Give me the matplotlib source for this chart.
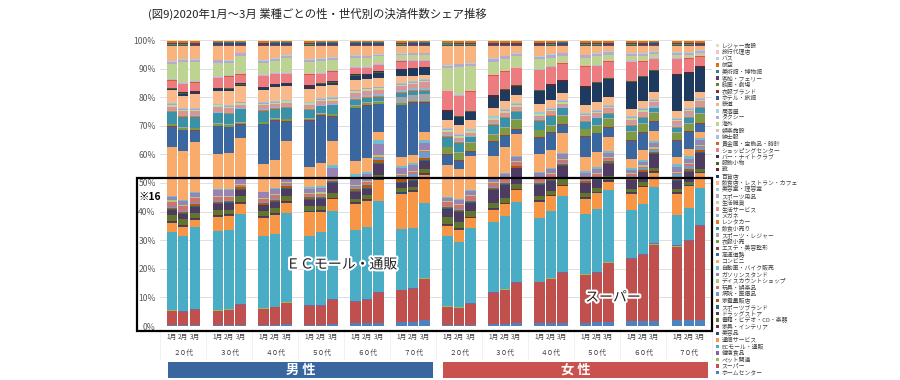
import matplotlib
matplotlib.use('Agg')
import matplotlib.pyplot as plt
import matplotlib.patheffects as pe
from matplotlib.patches import Rectangle
from matplotlib.transforms import blended_transform_factory
import numpy as np

plt.rcParams['font.family'] = ['Noto Sans CJK JP', 'DejaVu Sans']

title = '(図9)2020年1月～3月 業種ごとの性・世代別の決済件数シェア推移'
months = ['1月', '2月', '3月']
ages = ['２０代', '３０代', '４０代', '５０代', '６０代', '７０代']
genders = ['男 性', '女 性']
y_labels = ['0%', '10%', '20%', '30%', '40%', '50%', '60%', '70%', '80%', '90%', '100%']

# stacking order: bottom -> top
categories = ['ホームセンター', 'スーパー', 'ペット関連', '健康食品', 'ECモール・通販', '通信サービス',
              '美容品', '家具・インテリア', '書籍・ビデオ・CD・楽器', 'ドラッグストア', 'スポーツブランド',
              '家電量販店', '病院・医療品', '玩具・娯楽品', 'ディスカウントショップ', 'ガソリンスタンド',
              '自動車・バイク販売', 'コンビニ', '高速道路', 'エステ・美容整形', '衣服小売', 'スポーツ・レジャー',
              '飲食小売り', 'レンタカー', 'メガネ', '生活サービス', '生活雑貨', 'スポーツ用品', '美容室・理容室',
              '飲食店・レストラン・カフェ', '百貨店', '靴', '服飾小物', 'バー・ナイトクラブ', 'ショッピングセンター',
              '貴金属・宝飾品・時計', '紳士服', '娯楽施設', '海外', 'タクシー', '居酒屋', '鉄道', 'ホテル・旅館',
              '衣服ブランド', '映画・劇場', '客船・フェリー', '美術館・博物館', '航空', 'バス', '旅行代理店', 'レジャー施設']

# bar order: 男性20代..70代, 女性20代..70代, each 1月,2月,3月 (share, %)
home_center = [0.4,0.4,0.4, 0.5,0.5,0.5, 0.5,0.5,0.6, 0.5,0.5,0.7, 1.0,1.0,1.0, 1.5,1.5,2.0, 0.3,0.3,0.3, 0.8,0.8,1.0, 1.0,1.0,1.2, 1.2,1.3,1.5, 1.8,1.8,2.0, 2.0,2.0,2.2]
supermarket = [5.0,4.6,5.4, 5.1,5.5,7.2, 5.7,6.3,7.9, 6.5,6.8,8.6, 7.8,8.3,11.0, 11.1,12.0,15.2, 6.3,6.0,7.4, 11.0,12.2,14.3, 14.5,15.7,18.2, 16.8,17.5,21.2, 21.6,23.3,27.8, 25.4,27.8,33.4]
pet = [0.1,0.1,0.1, 0.1,0.1,0.1, 0.1,0.1,0.1, 0.1,0.1,0.1, 0.1,0.1,0.1, 0.1,0.1,0.1, 0.1,0.1,0.1, 0.1,0.1,0.1, 0.1,0.1,0.1, 0.1,0.1,0.1, 0.1,0.1,0.1, 0.1,0.1,0.1]
health_food = [0.2,0.2,0.2, 0.2,0.2,0.2, 0.2,0.2,0.2, 0.2,0.2,0.2, 0.2,0.2,0.2, 0.2,0.2,0.2, 0.2,0.2,0.2, 0.2,0.2,0.2, 0.2,0.2,0.2, 0.2,0.2,0.2, 0.3,0.3,0.3, 0.3,0.3,0.3]
ec_mall = [27.5,26.5,29.2, 28.6,29.0,33.1, 25.8,26.5,32.3, 24.5,26.5,32.1, 25.9,26.3,32.9, 21.7,22.1,27.2, 24.0,22.4,26.6, 25.0,26.0,29.0, 22.8,23.5,28.0, 21.0,22.2,25.6, 17.0,18.0,20.5, 10.5,11.3,13.1]
telecom = [3.3,3.3,2.6, 5.1,5.2,3.5, 6.5,7.0,3.5, 8.2,7.6,4.1, 9.3,9.3,7.8, 12.4,13.1,10.3, 3.5,4.1,3.5, 4.5,4.2,4.0, 5.6,5.2,3.5, 5.5,5.6,2.9, 5.6,5.8,5.3, 7.3,7.6,5.2]
beauty_goods = [0.3,0.3,0.3, 0.3,0.3,0.3, 0.3,0.3,0.3, 0.3,0.3,0.3, 0.4,0.4,0.4, 0.4,0.4,0.4, 0.3,0.3,0.3, 0.3,0.3,0.3, 0.3,0.3,0.3, 0.3,0.3,0.3, 0.3,0.3,0.3, 0.3,0.3,0.3]
furniture = [0.3,0.3,0.3, 0.3,0.3,0.3, 0.3,0.3,0.3, 0.3,0.3,0.3, 0.3,0.3,0.3, 0.3,0.3,0.3, 0.3,0.3,0.3, 0.3,0.3,0.3, 0.3,0.3,0.3, 0.3,0.3,0.3, 0.3,0.3,0.3, 0.3,0.3,0.3]
books = [2.0,2.0,2.0, 1.9,1.5,2.3, 1.8,1.8,2.0, 1.6,1.6,1.8, 1.2,1.2,1.2, 1.2,1.2,1.2, 2.2,2.2,2.0, 1.8,1.8,1.8, 1.5,1.5,2.0, 1.2,1.2,1.5, 1.2,1.2,1.2, 1.0,1.0,1.0]
drugstore = [1.8,1.8,2.2, 2.0,2.5,2.3, 2.0,2.2,2.6, 2.2,2.4,3.5, 2.5,2.5,4.0, 2.0,2.2,3.0, 3.0,3.3,3.0, 4.5,4.5,5.5, 4.0,3.5,5.0, 3.5,3.0,4.5, 3.0,3.5,5.0, 3.0,3.5,5.5]
sports_brand = [0.3,0.3,0.3, 0.3,0.3,0.3, 0.3,0.3,0.3, 0.3,0.3,0.3, 0.3,0.3,0.3, 0.3,0.3,0.3, 0.3,0.3,0.3, 0.3,0.3,0.3, 0.3,0.3,0.3, 0.3,0.3,0.3, 0.3,0.3,0.3, 0.3,0.3,0.3]
electronics = [0.6,0.6,0.6, 0.6,0.6,0.6, 0.6,0.6,0.6, 0.6,0.6,0.6, 0.8,0.8,1.0, 0.8,0.8,1.0, 0.4,0.4,0.4, 0.4,0.4,0.4, 0.4,0.4,0.4, 0.5,0.5,0.5, 0.6,0.6,0.6, 0.8,0.8,0.8]
hospital = [0.3,0.3,0.3, 0.3,0.3,0.3, 0.3,0.3,0.3, 0.3,0.3,0.3, 0.6,0.6,0.8, 1.2,1.5,2.0, 0.3,0.3,0.3, 0.3,0.3,0.3, 0.3,0.3,0.3, 0.3,0.3,0.3, 0.6,0.6,0.6, 1.0,1.0,1.0]
toys = [1.8,1.8,1.8, 1.5,1.2,0.6, 1.2,1.2,0.8, 0.8,0.8,0.8, 0.5,0.5,0.5, 0.4,0.4,0.4, 1.2,1.5,1.3, 1.5,1.5,1.2, 1.2,1.2,1.0, 0.8,0.8,0.8, 0.6,0.6,0.6, 0.5,0.5,0.5]
discount = [0.4,0.4,0.4, 0.4,0.4,0.4, 0.4,0.4,0.4, 0.4,0.4,0.4, 0.4,0.4,0.4, 0.4,0.4,0.4, 0.4,0.4,0.4, 0.4,0.4,0.4, 0.4,0.4,0.4, 0.4,0.4,0.4, 0.5,0.5,0.5, 0.5,0.5,0.5]
gas_station = [1.2,1.2,1.5, 2.2,2.2,2.3, 1.8,2.0,1.7, 1.5,1.8,3.0, 3.0,2.5,4.0, 2.0,2.2,2.5, 1.0,1.2,1.5, 1.2,1.2,1.5, 1.5,1.5,1.8, 1.5,1.5,1.5, 1.0,1.2,1.5, 1.5,1.5,1.5]
car_dealer = [0.3,0.3,0.3, 0.3,0.3,0.3, 0.3,0.3,0.3, 0.5,0.5,1.0, 0.8,0.8,1.5, 0.8,0.8,1.0, 0.3,0.3,0.3, 0.3,0.3,0.3, 0.3,0.3,0.3, 0.6,0.6,0.6, 0.8,0.8,0.8, 1.0,1.0,1.0]
conbini = [17.5,17.5,18.0, 12.6,13.3,14.2, 9.9,10.2,13.0, 7.0,8.5,9.0, 5.0,5.0,3.0, 3.0,3.0,3.0, 11.0,10.5,12.0, 8.0,9.3,7.8, 6.5,6.5,7.5, 5.0,5.5,5.0, 3.0,3.5,3.5, 2.5,2.5,2.0]
expressway = [7.0,7.2,4.0, 10.1,9.4,4.7, 14.2,14.3,7.0, 16.3,17.1,8.7, 19.0,19.0,10.0, 18.5,19.0,10.5, 3.5,2.8,1.5, 4.8,3.8,1.7, 5.8,5.8,3.0, 7.0,6.5,3.5, 6.5,6.0,3.5, 5.5,6.0,3.0]
esthetic = [0.2,0.2,0.2, 0.2,0.2,0.2, 0.2,0.2,0.2, 0.2,0.2,0.2, 0.2,0.2,0.2, 0.2,0.2,0.2, 0.3,0.3,0.3, 0.3,0.3,0.3, 0.3,0.3,0.3, 0.3,0.3,0.3, 0.3,0.3,0.3, 0.3,0.3,0.3]
clothing_retail = [0.6,0.6,0.6, 0.6,0.6,0.6, 0.6,0.6,0.6, 0.6,0.6,0.6, 0.6,0.6,0.6, 0.6,0.6,0.6, 2.3,2.3,2.8, 2.4,2.8,3.3, 2.3,2.3,3.0, 2.3,2.3,2.9, 2.8,2.8,2.8, 2.5,2.5,3.0]
sports_leisure = [0.2,0.2,0.2, 0.2,0.2,0.2, 0.2,0.2,0.2, 0.2,0.2,0.2, 0.5,0.5,0.5, 2.0,2.0,2.5, 0.2,0.2,0.2, 0.2,0.2,0.2, 0.2,0.2,0.2, 0.2,0.2,0.2, 0.3,0.3,0.3, 0.3,0.3,0.3]
food_retail = [4.2,3.6,4.0, 3.6,3.9,4.7, 3.8,3.4,4.0, 2.9,2.5,3.0, 1.8,1.5,1.5, 1.5,1.5,1.2, 3.3,3.3,1.8, 3.3,3.3,2.6, 3.2,3.2,2.5, 2.5,2.5,1.5, 1.8,1.8,1.5, 1.5,1.8,2.0]
rent_a_car = [0.3,0.3,0.3, 0.3,0.3,0.3, 0.3,0.3,0.3, 0.3,0.3,0.3, 0.3,0.3,0.3, 0.3,0.3,0.3, 0.3,0.3,0.3, 0.3,0.3,0.3, 0.3,0.3,0.3, 0.3,0.3,0.3, 0.3,0.3,0.3, 0.3,0.3,0.3]
glasses = [0.3,0.3,0.3, 0.3,0.3,0.3, 0.3,0.3,0.3, 0.3,0.3,0.3, 0.8,0.8,0.8, 0.8,0.8,0.8, 0.3,0.3,0.3, 0.3,0.3,0.3, 0.3,0.3,0.3, 0.3,0.3,0.3, 0.5,0.5,0.5, 0.5,0.5,0.5]
life_service = [1.3,1.5,1.3, 1.8,1.5,1.2, 1.5,1.2,1.2, 1.2,1.2,1.2, 1.5,1.5,1.5, 1.5,1.5,2.0, 1.2,1.2,1.0, 1.2,1.2,1.2, 1.2,1.2,1.2, 1.3,1.3,1.3, 1.5,1.5,1.5, 1.5,1.5,1.5]
household_goods = [0.5,0.5,0.5, 0.5,0.5,0.5, 0.5,0.5,0.5, 0.5,0.5,0.5, 0.5,0.5,0.5, 0.5,0.5,0.5, 0.5,0.5,0.5, 0.5,0.5,0.5, 0.5,0.5,0.5, 0.5,0.5,0.5, 0.5,0.5,0.5, 0.5,0.5,0.5]
sports_goods = [0.3,0.3,0.3, 0.3,0.3,0.3, 0.3,0.3,0.3, 0.3,0.3,0.3, 0.3,0.3,0.3, 0.3,0.3,0.3, 0.3,0.3,0.3, 0.3,0.3,0.3, 0.3,0.3,0.3, 0.3,0.3,0.3, 0.3,0.3,0.3, 0.3,0.3,0.3]
hair_salon = [0.3,0.3,0.3, 0.3,0.3,0.3, 0.3,0.3,0.3, 0.3,0.3,0.3, 0.3,0.3,0.3, 0.3,0.3,0.3, 0.4,0.4,0.4, 0.4,0.4,0.4, 0.4,0.4,0.4, 0.4,0.4,0.4, 0.4,0.4,0.4, 0.4,0.4,0.4]
restaurant = [4.6,4.5,5.0, 4.7,5.3,5.5, 4.2,5.0,5.0, 4.5,4.5,4.5, 3.5,3.0,3.0, 2.5,2.0,1.5, 2.8,3.0,3.5, 3.0,3.0,3.0, 3.0,2.8,2.8, 2.8,2.8,2.8, 2.5,2.5,2.5, 2.2,2.2,2.2]
department_store = [0.5,0.6,0.6, 0.6,0.6,0.6, 0.7,0.7,0.7, 0.8,0.8,0.8, 1.5,1.5,2.0, 2.0,2.3,2.5, 2.8,2.8,2.6, 4.0,3.7,3.0, 4.5,5.0,4.0, 6.0,6.5,6.4, 9.5,8.5,7.5, 12.5,10.0,8.5]
shoes = [0.1,0.1,0.1, 0.1,0.1,0.1, 0.1,0.1,0.1, 0.1,0.1,0.1, 0.1,0.1,0.1, 0.1,0.1,0.1, 0.2,0.2,0.2, 0.2,0.2,0.2, 0.2,0.2,0.2, 0.2,0.2,0.2, 0.2,0.2,0.2, 0.2,0.2,0.2]
accessories = [0.1,0.1,0.1, 0.1,0.1,0.1, 0.1,0.1,0.1, 0.1,0.1,0.1, 0.1,0.1,0.1, 0.1,0.1,0.1, 0.2,0.2,0.2, 0.2,0.2,0.2, 0.2,0.2,0.2, 0.2,0.2,0.2, 0.2,0.2,0.2, 0.2,0.2,0.2]
bar_club = [0.3,0.3,0.3, 0.3,0.3,0.3, 0.3,0.3,0.3, 0.3,0.3,0.3, 0.3,0.3,0.3, 0.3,0.3,0.3, 0.1,0.1,0.1, 0.1,0.1,0.1, 0.1,0.1,0.1, 0.1,0.1,0.1, 0.1,0.1,0.1, 0.1,0.1,0.1]
shopping_center = [2.4,2.8,3.0, 3.5,4.0,3.1, 3.8,3.5,3.0, 3.6,3.0,3.5, 2.3,2.0,2.2, 2.5,2.5,2.0, 6.5,6.8,6.8, 7.0,6.3,6.0, 7.0,6.0,6.0, 6.8,5.5,5.8, 6.5,5.0,4.0, 5.0,4.5,3.5]
jewelry = [0.2,0.2,0.2, 0.2,0.2,0.2, 0.2,0.2,0.2, 0.2,0.2,0.2, 0.2,0.2,0.2, 0.2,0.2,0.2, 0.2,0.2,0.2, 0.2,0.2,0.2, 0.2,0.2,0.2, 0.2,0.2,0.2, 0.2,0.2,0.2, 0.2,0.2,0.2]
mens_wear = [0.3,0.3,0.3, 0.3,0.3,0.3, 0.3,0.3,0.3, 0.3,0.3,0.3, 0.3,0.3,0.3, 0.3,0.3,0.3, 0.1,0.1,0.1, 0.1,0.1,0.1, 0.1,0.1,0.1, 0.1,0.1,0.1, 0.1,0.1,0.1, 0.1,0.1,0.1]
amusement = [0.3,0.3,0.3, 0.3,0.3,0.3, 0.3,0.3,0.3, 0.3,0.3,0.3, 0.3,0.3,0.3, 0.3,0.3,0.3, 0.3,0.3,0.3, 0.3,0.3,0.3, 0.3,0.3,0.3, 0.3,0.3,0.3, 0.3,0.3,0.3, 0.3,0.3,0.3]
overseas = [5.0,7.0,6.5, 4.8,4.1,6.3, 4.0,4.0,5.0, 3.8,4.0,3.5, 3.0,3.0,2.5, 1.5,1.5,1.5, 7.3,9.5,8.5, 4.5,4.0,3.7, 3.5,2.8,2.5, 2.7,3.0,2.0, 1.5,1.5,1.2, 0.8,0.8,0.6]
taxi = [0.8,0.8,0.8, 0.8,0.8,0.8, 0.8,0.8,0.8, 0.8,0.8,0.8, 0.5,0.5,0.5, 0.5,0.5,0.5, 0.8,0.8,0.8, 0.8,0.8,0.8, 0.8,0.8,0.8, 0.8,0.8,0.8, 0.8,0.8,0.8, 0.8,0.8,0.8]
izakaya = [0.3,0.3,0.3, 0.3,0.3,0.3, 0.3,0.3,0.3, 0.3,0.3,0.3, 0.3,0.3,0.3, 0.3,0.3,0.3, 0.3,0.3,0.3, 0.3,0.3,0.3, 0.3,0.3,0.3, 0.3,0.3,0.3, 0.3,0.3,0.3, 0.3,0.3,0.3]
railway = [5.4,4.7,4.8, 5.0,5.4,2.5, 5.0,4.5,3.5, 4.5,4.5,4.0, 3.5,3.5,3.0, 2.5,2.5,2.5, 6.5,6.0,6.0, 4.5,3.5,2.7, 3.5,3.0,2.5, 3.0,2.5,2.0, 2.5,2.5,2.0, 2.0,2.0,1.5]
hotel = [0.4,0.4,0.4, 0.4,0.4,0.4, 0.4,0.4,0.4, 0.4,0.4,0.4, 0.4,0.4,0.4, 0.4,0.4,0.4, 0.4,0.4,0.4, 0.4,0.4,0.4, 0.4,0.4,0.4, 0.4,0.4,0.4, 0.4,0.4,0.4, 0.4,0.4,0.4]
clothing_brand = [0.1,0.1,0.1, 0.1,0.1,0.1, 0.1,0.1,0.1, 0.1,0.1,0.1, 0.1,0.1,0.1, 0.1,0.1,0.1, 0.1,0.1,0.1, 0.1,0.1,0.1, 0.1,0.1,0.1, 0.1,0.1,0.1, 0.1,0.1,0.1, 0.1,0.1,0.1]
cinema = [0.3,0.3,0.3, 0.3,0.3,0.3, 0.3,0.3,0.3, 0.3,0.3,0.3, 0.3,0.3,0.3, 0.3,0.3,0.3, 0.3,0.3,0.3, 0.3,0.3,0.3, 0.3,0.3,0.3, 0.3,0.3,0.3, 0.3,0.3,0.3, 0.3,0.3,0.3]
ferry = [0.1,0.1,0.1, 0.1,0.1,0.1, 0.1,0.1,0.1, 0.1,0.1,0.1, 0.1,0.1,0.1, 0.1,0.1,0.1, 0.1,0.1,0.1, 0.1,0.1,0.1, 0.1,0.1,0.1, 0.1,0.1,0.1, 0.1,0.1,0.1, 0.1,0.1,0.1]
museum = [0.3,0.3,0.3, 0.3,0.3,0.3, 0.3,0.3,0.3, 0.3,0.3,0.3, 0.3,0.3,0.3, 0.3,0.3,0.3, 0.3,0.3,0.3, 0.3,0.3,0.3, 0.3,0.3,0.3, 0.3,0.3,0.3, 0.3,0.3,0.3, 0.3,0.3,0.3]
airline = [0.4,0.4,0.4, 0.4,0.4,0.4, 0.4,0.4,0.4, 0.4,0.4,0.4, 0.4,0.4,0.4, 0.4,0.4,0.4, 0.4,0.4,0.4, 0.4,0.4,0.4, 0.4,0.4,0.4, 0.4,0.4,0.4, 0.4,0.4,0.4, 0.4,0.4,0.4]
bus = [0.1,0.1,0.1, 0.1,0.1,0.1, 0.1,0.1,0.1, 0.1,0.1,0.1, 0.1,0.1,0.1, 0.1,0.1,0.1, 0.1,0.1,0.1, 0.1,0.1,0.1, 0.1,0.1,0.1, 0.1,0.1,0.1, 0.1,0.1,0.1, 0.1,0.1,0.1]
travel_agency = [0.2,0.2,0.2, 0.2,0.2,0.2, 0.2,0.2,0.2, 0.2,0.2,0.2, 0.2,0.2,0.2, 0.2,0.2,0.2, 0.2,0.2,0.2, 0.2,0.2,0.2, 0.2,0.2,0.2, 0.2,0.2,0.2, 0.2,0.2,0.2, 0.2,0.2,0.2]
leisure = [0.2,0.2,0.2, 0.2,0.2,0.2, 0.2,0.2,0.2, 0.2,0.2,0.2, 0.2,0.2,0.2, 0.2,0.2,0.2, 0.2,0.2,0.2, 0.2,0.2,0.2, 0.2,0.2,0.2, 0.2,0.2,0.2, 0.2,0.2,0.2, 0.2,0.2,0.2]

series = [home_center, supermarket, pet, health_food, ec_mall, telecom, beauty_goods, furniture,
          books, drugstore, sports_brand, electronics, hospital, toys, discount, gas_station,
          car_dealer, conbini, expressway, esthetic, clothing_retail, sports_leisure, food_retail,
          rent_a_car, glasses, life_service, household_goods, sports_goods, hair_salon, restaurant,
          department_store, shoes, accessories, bar_club, shopping_center, jewelry, mens_wear,
          amusement, overseas, taxi, izakaya, railway, hotel, clothing_brand, cinema, ferry,
          museum, airline, bus, travel_agency, leisure]

colors = ['#4F81BD', '#C0504D', '#9BBB59', '#8064A2', '#4BACC6', '#F79646',
          '#2C4D75', '#772C2A', '#5F7530', '#4D3B62', '#276A7C', '#B65708',
          '#729ACA', '#CD7371', '#AFC97A', '#9983B5', '#6FBDD3', '#F9AB6B',
          '#3B67A0', '#9C3F3C', '#7E9A43', '#A3A3AB', '#3A92A8', '#E07B2A',
          '#95B3D7', '#D99694', '#C3D69B', '#B3A2C7', '#93CDDD', '#FAB98A',
          '#1F3A5F', '#632523', '#4F6228', '#3F3151', '#EC7C7F', '#D35F2A',
          '#A7C0DE', '#E6B9B8', '#BCD391', '#B8A9D0', '#A5D5E2', '#F8B37E',
          '#2F5B8F', '#8B2F2C', '#6B8434', '#53406E', '#2E7F94', '#E46C0A',
          '#B9CDE5', '#F2C4C3', '#D7E4BC']

W, H = 900, 380
fig = plt.figure(figsize=(9, 3.8), dpi=100)
ax = fig.add_axes([160 / W, 1 - 326 / H, (712 - 160) / W, (326 - 40) / H])

x = np.array([g * 4 + m for g in range(12) for m in range(3)], dtype=float)
data = np.array(series, dtype=float)
shares = data / data.sum(axis=0)
bottom = np.zeros(len(x))
for vals, col in zip(shares, colors):
    ax.bar(x, vals, 0.9, bottom=bottom, color=col, linewidth=0, zorder=2)
    bottom += vals

ax.set_xlim(-1.02, 47.02)
ax.set_ylim(0, 1)
ax.set_yticks(np.linspace(0, 1, 11))
ax.set_yticklabels(y_labels)
ax.yaxis.grid(True, color='#d9d9d9', linewidth=0.6, zorder=0)
ax.set_axisbelow(True)
for s in ax.spines.values():
    s.set_visible(False)
ax.tick_params(axis='y', length=0, pad=3, labelsize=6.2, labelcolor='#595959')
ax.set_xticks(x)
ax.set_xticklabels(months * 12)
ax.tick_params(axis='x', length=0, pad=5, labelsize=4.8, labelcolor='#404040')

bt = blended_transform_factory(ax.transData, fig.transFigure)
for g in range(12):
    ax.text(g * 4 + 1, 1 - 353 / H, ages[g % 6], transform=bt, ha='center', va='center',
            fontsize=4.8, color='#404040')
for g in range(13):
    ax.plot([g * 4 - 1, g * 4 - 1], [1 - 329 / H, 1 - 359 / H], transform=bt,
            color='#ececec', lw=0.5, clip_on=False)

# gender boxes
box_cols = ['#3A66A0', '#C9514E']
box_x = [(168, 433), (443, 708)]
for (x0, x1), col, lab in zip(box_x, box_cols, genders):
    fig.add_artist(Rectangle((x0 / W, 1 - 378 / H), (x1 - x0) / W, 16 / H,
                             transform=fig.transFigure, color=col, lw=0))
    fig.text((x0 + x1) / 2 / W, 1 - 370 / H, lab, ha='center', va='center',
             fontsize=9.5, color='white', fontweight='bold')

# highlight box
fig.add_artist(Rectangle((137 / W, 1 - 331 / H), (712 - 137) / W, (331 - 178) / H,
                         transform=fig.transFigure, fill=False, ec='black', lw=1.6))
fig.text(138 / W, 1 - 197 / H, '※16', fontsize=7.5, fontweight='bold', va='center', ha='left')

stroke = [pe.withStroke(linewidth=3, foreground='white')]
ax.text(14.8, 0.215, 'ＥＣモール・通販', ha='center', va='center', fontsize=10,
        color='#222222', path_effects=stroke, zorder=5)
ax.text(38.4, 0.10, 'スーパー', ha='center', va='center', fontsize=10,
        color='#222222', path_effects=stroke, zorder=5)

fig.text(148 / W, 1 - 14 / H, title, ha='left', va='center', fontsize=8.2, color='#222222')

# legend (top of list = top of stack)
n = len(categories)
y0, y1 = 45.5, 372.5
step = (y1 - y0) / (n - 1)
for i, k in enumerate(range(n - 1, -1, -1)):
    yc = y0 + i * step
    fig.add_artist(Rectangle((716 / W, 1 - (yc + 1.7) / H), 3.4 / W, 3.4 / H,
                             transform=fig.transFigure, color=colors[k], lw=0))
    fig.text(721.5 / W, 1 - yc / H, categories[k], ha='left', va='center',
             fontsize=4.2, color='#404040')

fig.savefig('out.png', dpi=100)
